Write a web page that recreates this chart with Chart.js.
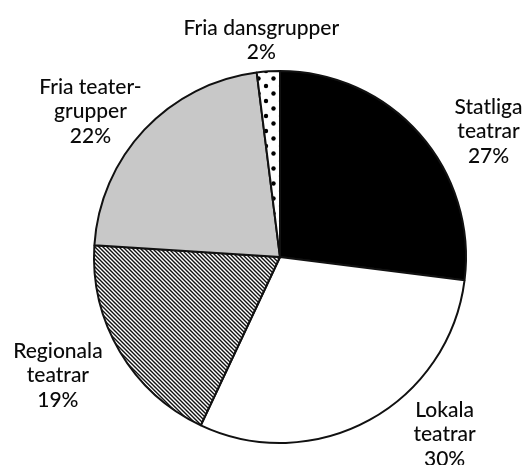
<!DOCTYPE html>
<html>
<head>
<meta charset="utf-8">
<script src="https://cdn.jsdelivr.net/npm/chart.js@4"></script>
<style>
  body { margin: 0; background: #fff; }
  #wrap { width: 530px; height: 465px; }
</style>
</head>
<body>
<div id="wrap"><canvas id="pie" width="530" height="465"></canvas></div>
<script>
// Andel per teaterkategori (procent)
const categories = ['Statliga\nteatrar', 'Lokala\nteatrar', 'Regionala\nteatrar', 'Fria teater-\ngrupper', 'Fria dansgrupper'];
const shares = [27, 30, 19, 22, 2];

// label nudges from the arc's outer mid point (style only)
const labelNudge = [[69, -3], [75, 14], [-62, 23], [-54, -19], [-7, -32]];

function hatchPattern() {
    const c = document.createElement('canvas');
    c.width = 4; c.height = 4;
    const g = c.getContext('2d');
    g.fillStyle = '#fff';
    g.fillRect(0, 0, 4, 4);
    g.strokeStyle = '#111';
    g.lineWidth = 1.4;
    g.beginPath();
    g.moveTo(-1, -1); g.lineTo(5, 5);
    g.moveTo(3, -1); g.lineTo(5, 1);
    g.moveTo(-1, 3); g.lineTo(1, 5);
    g.stroke();
    return g.createPattern(c, 'repeat');
}

function dotPattern() {
    const c = document.createElement('canvas');
    c.width = 15; c.height = 15;
    const g = c.getContext('2d');
    g.fillStyle = '#fff';
    g.fillRect(0, 0, 15, 15);
    g.fillStyle = '#000';
    [[3.5, 3.5], [11, 11]].forEach(p => {
        g.beginPath();
        g.arc(p[0], p[1], 2.2, 0, Math.PI * 2);
        g.fill();
    });
    return g.createPattern(c, 'repeat');
}

const sliceLabels = {
    id: 'sliceLabels',
    afterDraw(chart) {
        const ctx = chart.ctx;
        const meta = chart.getDatasetMeta(0);
        const pitch = 24.5, capH = 15;
        ctx.save();
        ctx.font = '500 21px Lato, "Open Sans", sans-serif';
        ctx.fillStyle = '#0a0a0a';
        ctx.textAlign = 'center';
        ctx.textBaseline = 'alphabetic';
        meta.data.forEach((arc, i) => {
            const mid = (arc.startAngle + arc.endAngle) / 2;
            const px = arc.x + Math.cos(mid) * arc.outerRadius + labelNudge[i][0];
            const py = arc.y + Math.sin(mid) * arc.outerRadius + labelNudge[i][1];
            const lines = categories[i].split('\n').concat([shares[i] + '%']);
            const top = py - ((lines.length - 1) * pitch + capH) / 2;
            lines.forEach((t, j) => ctx.fillText(t, px, top + capH + j * pitch));
        });
        ctx.restore();
    }
};

new Chart(document.getElementById('pie'), {
    type: 'pie',
    data: {
        labels: categories,
        datasets: [{
            data: shares,
            backgroundColor: ['#000', '#fff', hatchPattern(), '#c8c8c8', dotPattern()],
            borderColor: '#111',
            borderWidth: 2
        }]
    },
    options: {
        responsive: false,
        animation: false,
        layout: { padding: { left: 93, right: 63, top: 70, bottom: 21 } },
        plugins: {
            legend: { display: false },
            tooltip: { enabled: false }
        }
    },
    plugins: [sliceLabels]
});
</script>
</body>
</html>
